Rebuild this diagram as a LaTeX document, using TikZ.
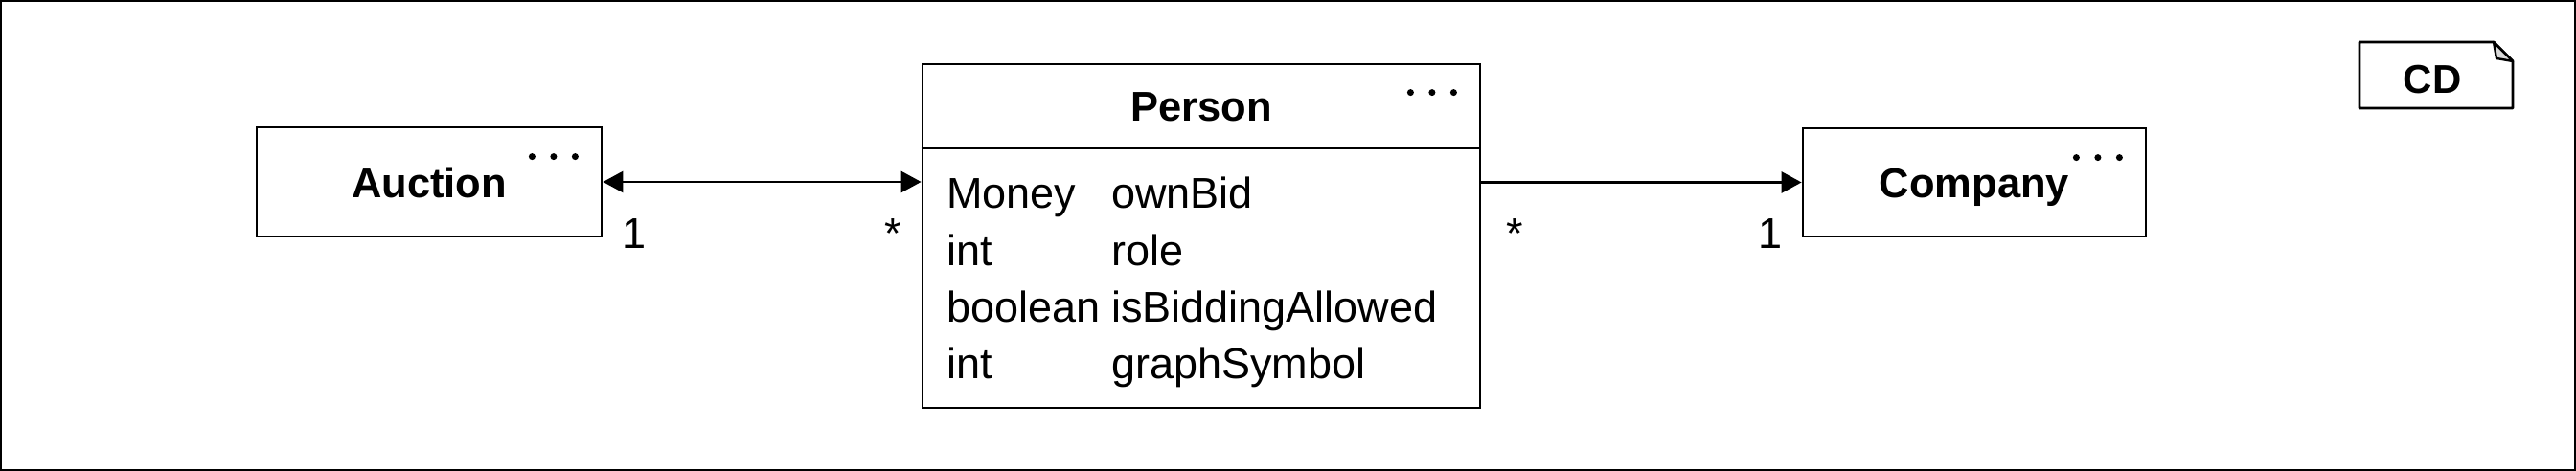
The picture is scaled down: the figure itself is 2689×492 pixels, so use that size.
\documentclass[tikz,border=0pt]{standalone}
\usepackage{fontspec}
\setmainfont{Liberation Sans}
\usetikzlibrary{arrows.meta,calc}
\begin{document}
\begin{tikzpicture}[x=0.5pt,y=-0.5pt,
  >={Triangle[length=10.5pt,width=11pt]},
  classbox/.style={draw,line width=1.4pt,rectangle,inner sep=0pt},
  title/.style={font=\fontsize{21.75pt}{26pt}\selectfont\bfseries,anchor=base,inner sep=0pt},
  attr/.style={font=\fontsize{22.5pt}{27pt}\selectfont,anchor=base west,inner sep=0pt},
  mult/.style={font=\fontsize{22.5pt}{27pt}\selectfont,anchor=base,inner sep=0pt},
  dot/.style={fill=black,draw=none},
  assoc/.style={line width=1.4pt},
]
\useasboundingbox (0,0) rectangle (2689,492);
\draw[line width=1pt] (1,1) rectangle (2688,491);

% class boxes
\node[classbox,minimum width=180pt,minimum height=57pt] (auction) at (448,190) {};
\node[classbox,minimum width=291pt,minimum height=179.5pt] (person) at (1254,246.5) {};
\node[classbox,minimum width=179pt,minimum height=56.5pt] (company) at (2061,190.5) {};
\draw[line width=1.4pt] ($(person.north west)+(0,89.5)$) -- ($(person.north east)+(0,89.5)$);

% titles
\node[title] (tauction) at (448,206.7) {Auction};
\node[title] (tperson) at (1254,126.7) {Person};
\node[title] (tcompany) at (2061,206.7) {Company};

% dots
\foreach \n/\dy in {auction/32,person/31,company/32}{
  \foreach \dx in {-29,-51.5,-74}{
    \fill[dot] ($(\n.north east)+(\dx,\dy)$) circle[radius=1.75pt];
  }
}

% attributes
\node[attr] (t1) at (988,218) {Money};
\node[attr] (n1) at (1160,218) {ownBid};
\node[attr] (t2) at (988,277) {int};
\node[attr] (n2) at (1160,277) {role};
\node[attr] (t3) at (988,336) {boolean};
\node[attr] (n3) at (1160,336) {isBiddingAllowed};
\node[attr] (t4) at (988,395) {int};
\node[attr] (n4) at (1160,395) {graphSymbol};

% associations
\draw[assoc,<->] (auction.east) -- (auction.east -| person.west);
\draw[assoc,->] (company.west -| person.east) -- (company.west);

% multiplicities
\node[mult] (m1) at (662,259) {1};
\node[mult] (m2) at (932,259) {*};
\node[mult] (m3) at (1581,259) {*};
\node[mult] (m4) at (1848,259) {1};

% CD note
\draw[line width=1.4pt,line join=round] (2463,44) -- (2603,44) -- (2623,64) -- (2623,113) -- (2463,113) -- cycle;
\draw[line width=1.2pt,line join=round,fill=gray!30] (2603,44) -- (2606,61) -- (2623,64) -- cycle;
\node[title,font=\fontsize{21pt}{25pt}\selectfont\bfseries] (cd) at (2539,97.3) {CD};
\end{tikzpicture}
\end{document}
